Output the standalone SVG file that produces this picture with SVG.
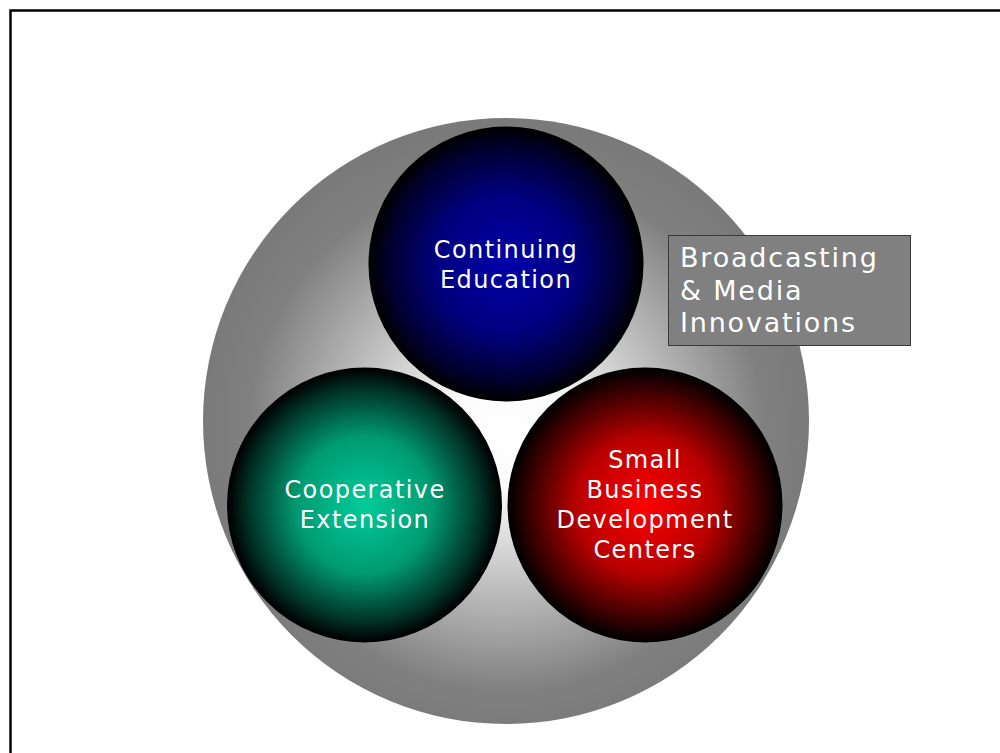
<svg xmlns="http://www.w3.org/2000/svg" width="1000" height="753" viewBox="0 0 1000 753">
  <style>
    .ball { stroke: #000; stroke-width: 2; }
    .lbl { font-family: "DejaVu Sans", Verdana, sans-serif; font-size: 24px; fill: #fff; text-anchor: middle; letter-spacing: 1.4px; }
    .side { font-family: "DejaVu Sans", Verdana, sans-serif; font-size: 27px; fill: #fff; letter-spacing: 1.8px; }
  </style>
  <defs>
    <radialGradient id="gOuter" cx="0.5" cy="0.52" r="0.5">
      <stop offset="0" stop-color="#ffffff"/>
      <stop offset="0.18" stop-color="#fbfbfb"/>
      <stop offset="0.85" stop-color="#808080"/>
      <stop offset="1" stop-color="#7a7a7a"/>
    </radialGradient>
    <radialGradient id="gBlue" cx="0.5" cy="0.5" r="0.5">
      <stop offset="0" stop-color="#0000a8"/>
      <stop offset="0.5" stop-color="#000080"/>
      <stop offset="0.85" stop-color="#000030"/>
      <stop offset="1" stop-color="#000000"/>
    </radialGradient>
    <radialGradient id="gGreen" cx="0.5" cy="0.5" r="0.5">
      <stop offset="0" stop-color="#00cc99"/>
      <stop offset="0.5" stop-color="#009a72"/>
      <stop offset="0.85" stop-color="#003326"/>
      <stop offset="1" stop-color="#000000"/>
    </radialGradient>
    <radialGradient id="gRed" cx="0.5" cy="0.5" r="0.5">
      <stop offset="0" stop-color="#ff0000"/>
      <stop offset="0.5" stop-color="#b80000"/>
      <stop offset="0.85" stop-color="#380000"/>
      <stop offset="1" stop-color="#000000"/>
    </radialGradient>
  </defs>

  <rect width="1000" height="753" fill="#fff"/>
  <!-- page frame, open at right and bottom -->
  <rect x="10.5" y="10.5" width="1000" height="800" fill="none" stroke="#000" stroke-width="2.5"/>

  <g id="outer">
    <circle cx="506" cy="421" r="303" fill="url(#gOuter)"/>
  </g>

  <g id="continuing-education">
    <circle class="ball" cx="506" cy="264" r="136.5" fill="url(#gBlue)"/>
    <text class="lbl" x="506" y="258">Continuing</text>
    <text class="lbl" x="506" y="288">Education</text>
  </g>

  <g id="cooperative-extension">
    <circle class="ball" cx="364.5" cy="505" r="136.5" fill="url(#gGreen)"/>
    <text class="lbl" x="365" y="498">Cooperative</text>
    <text class="lbl" x="365" y="528">Extension</text>
  </g>

  <g id="small-business">
    <circle class="ball" cx="645" cy="505" r="136.5" fill="url(#gRed)"/>
    <text class="lbl" x="645" y="468">Small</text>
    <text class="lbl" x="645" y="498">Business</text>
    <text class="lbl" x="645" y="528">Development</text>
    <text class="lbl" x="645" y="558">Centers</text>
  </g>

  <g id="broadcasting">
    <rect x="668.5" y="235.5" width="242" height="110" fill="#808080" stroke="#3a3a3a" stroke-width="1"/>
    <text class="side" x="680" y="267">Broadcasting</text>
    <text class="side" x="680" y="300">&amp; Media</text>
    <text class="side" x="680" y="332">Innovations</text>
  </g>

  <g id="connectors"/>
</svg>
